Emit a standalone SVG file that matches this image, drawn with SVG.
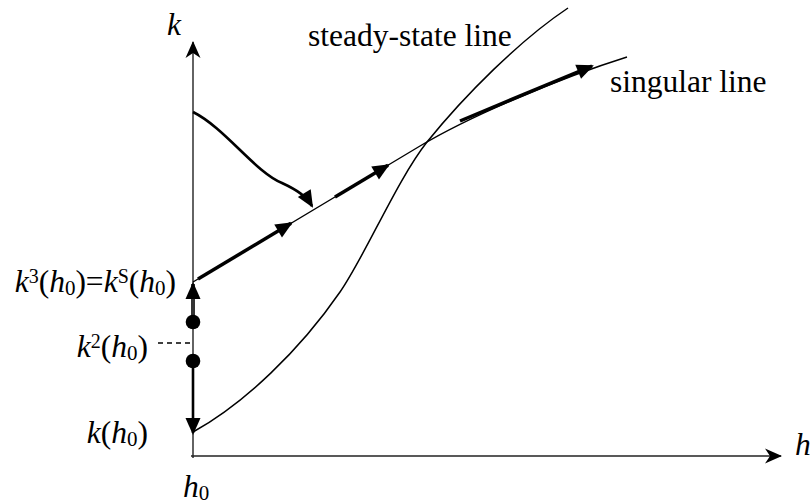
<svg xmlns="http://www.w3.org/2000/svg" width="810" height="504" viewBox="0 0 810 504">
<defs>
  <marker id="axhead" markerUnits="userSpaceOnUse" markerWidth="20" markerHeight="20" viewBox="-18 -9 20 18" refX="0" refY="0" orient="auto">
    <path d="M1,0 L-16,-7.5 L-11,0 L-16,7.5 z" fill="#000"/>
  </marker>
  <marker id="head" markerUnits="userSpaceOnUse" markerWidth="22" markerHeight="22" viewBox="-18 -10 22 20" refX="0" refY="0" orient="auto">
    <path d="M2,0 L-15,-7.5 L-15,7.5 z" fill="#000"/>
  </marker>
</defs>

<g id="axes" stroke="#222" stroke-width="1.4" fill="none">
  <line x1="193" y1="458" x2="193" y2="42" marker-end="url(#axhead)"/>
  <line x1="191" y1="456" x2="781" y2="456" marker-end="url(#axhead)"/>
</g>

<g id="steady-state-line" stroke="#000" stroke-width="1.5" fill="none">
  <path d="M193,432 C245,403 300,350 340,292 C365,256 397,180 427,142 C465,95 520,40 568,8"/>
</g>

<g id="singular-line" stroke="#000" stroke-width="1.4" fill="none">
  <path d="M193,282 L420,146 C470,116 560,78 627,57"/>
</g>

<g id="connectors" stroke="#000" fill="none">
  <line stroke-width="3.5" x1="198" y1="279" x2="291" y2="223.3" marker-end="url(#head)"/>
  <line stroke-width="3.5" x1="335" y1="197" x2="388" y2="165.3" marker-end="url(#head)"/>
  <line stroke-width="3.5" x1="460" y1="121" x2="592" y2="66" marker-end="url(#head)"/>
  <path stroke-width="2.6" d="M193,112 C225,128 255,172 282,183 C297,190 306,196 312,206" marker-end="url(#head)"/>
  <line x1="193" y1="322" x2="193" y2="284" stroke="#333" stroke-width="4" marker-end="url(#head)"/>
  <line x1="193" y1="361" x2="193" y2="433" stroke-width="2.6" marker-end="url(#head)"/>
  <line x1="158" y1="343" x2="190" y2="343" stroke-width="1.3" stroke-dasharray="5,4"/>
</g>

<g id="dots" fill="#000">
  <circle cx="193" cy="322" r="7.3"/>
  <circle cx="193" cy="361" r="7.3"/>
</g>

<g id="labels" fill="#000">
  <text style="font-family: 'Liberation Serif', serif; font-size: 31.5px; font-style: italic" x="167" y="35">k</text>
  <text style="font-family: 'Liberation Serif', serif; font-size: 31.5px; font-style: italic" x="795" y="455">h</text>
  <text style="font-family: 'Liberation Serif', serif; font-size: 31.5px" x="183" y="497"><tspan font-style="italic">h</tspan><tspan font-size="21" dy="3">0</tspan></text>
  <text style="font-family: 'Liberation Serif', serif; font-size: 31.5px" x="308" y="46">steady-state line</text>
  <text style="font-family: 'Liberation Serif', serif; font-size: 31.5px" x="610" y="92">singular line</text>
  <text style="font-family: 'Liberation Serif', serif; font-size: 31.5px" x="176" y="292" text-anchor="end"><tspan font-style="italic">k</tspan><tspan font-size="20" dy="-9">3</tspan><tspan dy="9">(</tspan><tspan font-style="italic">h</tspan><tspan font-size="21" dy="3">0</tspan><tspan dy="-3">)=</tspan><tspan font-style="italic">k</tspan><tspan font-size="20" dy="-9">S</tspan><tspan dy="9">(</tspan><tspan font-style="italic">h</tspan><tspan font-size="21" dy="3">0</tspan><tspan dy="-3">)</tspan></text>
  <text style="font-family: 'Liberation Serif', serif; font-size: 31.5px" x="148" y="357" text-anchor="end"><tspan font-style="italic">k</tspan><tspan font-size="20" dy="-9">2</tspan><tspan dy="9">(</tspan><tspan font-style="italic">h</tspan><tspan font-size="21" dy="3">0</tspan><tspan dy="-3">)</tspan></text>
  <text style="font-family: 'Liberation Serif', serif; font-size: 31.5px" x="148" y="443" text-anchor="end"><tspan font-style="italic">k</tspan>(<tspan font-style="italic">h</tspan><tspan font-size="21" dy="3">0</tspan><tspan dy="-3">)</tspan></text>
</g>
</svg>
